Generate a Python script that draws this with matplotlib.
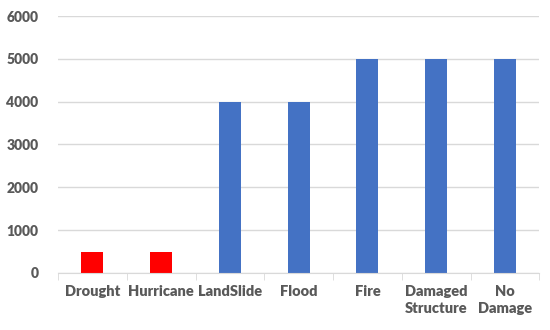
import matplotlib.pyplot as plt
import numpy as np

categories = ["Drought", "Hurricane", "LandSlide", "Flood", "Fire", "Damaged\nStructure", "No\nDamage"]
values = [500, 500, 4000, 4000, 5000, 5000, 5000]
colors = ["#FF0000", "#FF0000", "#4472C4", "#4472C4", "#4472C4", "#4472C4", "#4472C4"]

plt.rcParams['font.family'] = ['Lato', 'DejaVu Sans']

fig = plt.figure(figsize=(5.5, 3.3), dpi=100)
ax = fig.add_axes([0.1055, 0.173, 0.875, 0.7785])

x = np.arange(len(categories))
ax.bar(x, values, width=0.32, color=colors, zorder=3)

ax.set_ylim(0, 6000)
ax.set_xlim(-0.5, len(categories) - 0.5)
ax.set_yticks(range(0, 6001, 1000))
ax.grid(axis="y", color="#D9D9D9", linewidth=1, zorder=0)

for s in ["top", "right", "left"]:
    ax.spines[s].set_visible(False)
ax.spines["bottom"].set_color("#D9D9D9")
ax.spines["bottom"].set_zorder(4)

ax.set_xticks(x)
ax.set_xticklabels(categories, fontsize=10.5, fontweight="heavy", color="#595959", linespacing=1.3, va="top")
ax.set_xticks(np.arange(-0.5, len(categories), 1), minor=True)
ax.tick_params(axis="x", which="major", length=0, pad=9)
ax.tick_params(axis="x", which="minor", length=5, color="#D9D9D9", direction="out")
ax.tick_params(axis="y", length=0, pad=14, labelsize=10, labelcolor="#595959")
for lbl in ax.get_yticklabels():
    lbl.set_fontweight("heavy")

fig.savefig("out.png", dpi=100)
